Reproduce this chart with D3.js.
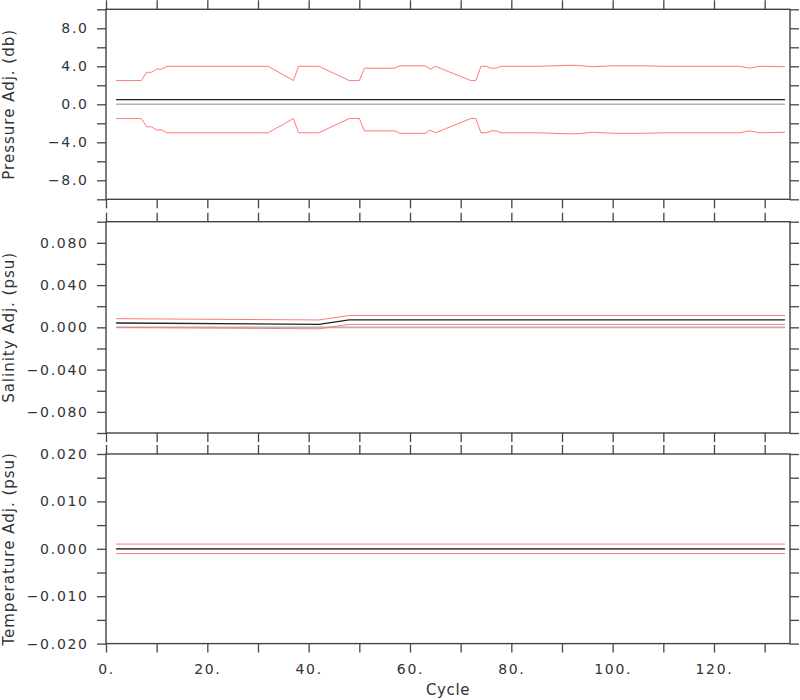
<!DOCTYPE html>
<html><head><meta charset="utf-8">
<script src="https://cdn.jsdelivr.net/npm/d3@7"></script>
<style>
html,body{margin:0;padding:0;background:#fff;}
svg text{font-family:"DejaVu Sans",sans-serif;fill:#333;}
</style></head>
<body>
<svg id="chart" width="800" height="700"></svg>
<script>
// ---- data ----
const pCycles = [2,7,8,9,10,11,12,32,37,38,42,48,50,51,57,58,63,64,65,72,73,74,75,76,77,78,85,91,93,96,100,106,110,120,125,127,129,134];
const pAdj    = [0.5,0.5,0.5,0.5,0.5,0.5,0.5,0.5,0.5,0.5,0.5,0.5,0.5,0.5,0.5,0.5,0.5,0.5,0.5,0.5,0.5,0.5,0.5,0.5,0.5,0.5,0.5,0.5,0.5,0.5,0.5,0.5,0.5,0.5,0.5,0.5,0.5,0.5];
const pErr    = [2.0,2.0,2.87,2.87,3.2,3.2,3.5,3.5,2.0,3.5,3.5,2.0,2.0,3.3,3.3,3.55,3.55,3.2,3.5,2.0,2.0,3.5,3.5,3.3,3.3,3.5,3.5,3.6,3.6,3.45,3.55,3.55,3.5,3.5,3.5,3.3,3.5,3.45];

const sCycles = [2,42,48,134];
const sAdj    = [0.0041,0.0028,0.0070,0.0070];
const sErr    = [0.0041,0.0042,0.0042,0.0042];

const tCycles = [2,134];
const tAdj    = [0.0,0.0];
const tErr    = [0.001,0.001];

const xTicks = [0,10,20,30,40,50,60,70,80,90,100,110,120,130];
const xLabels = [0,20,40,60,80,100,120];

const panels = [
  {title:"Pressure Adj. (db)", cycles:pCycles, adj:pAdj, err:pErr,
   domain:[-10,10], range:[199.3,9.3], minor:[-10,-8,-6,-4,-2,0,2,4,6,8,10], major:[-8,-4,0,4,8], fmt:".1f"},
  {title:"Salinity Adj. (psu)", cycles:sCycles, adj:sAdj, err:sErr,
   domain:[-0.1,0.1], range:[433,221.7], minor:[-0.1,-0.08,-0.06,-0.04,-0.02,0,0.02,0.04,0.06,0.08,0.1], major:[-0.08,-0.04,0,0.04,0.08], fmt:".3f"},
  {title:"Temperature Adj. (psu)", cycles:tCycles, adj:tAdj, err:tErr,
   domain:[-0.02,0.02], range:[643.6,454], minor:[-0.02,-0.015,-0.01,-0.005,0,0.005,0.01,0.015,0.02], major:[-0.02,-0.01,0,0.01,0.02], fmt:".3f"}
];

// ---- drawing ----
const svg = d3.select("#chart");
const x = d3.scaleLinear().domain([0,135]).range([106,790]);
const TL = 9;
const axisColor = "#444";

panels.forEach((p,i) => {
  const y = d3.scaleLinear().domain(p.domain).range(p.range);
  const g = svg.append("g");
  const f = d3.format(p.fmt);
  const isMajor = v => p.major.some(m => Math.abs(m - v) < 1e-9);

  // data lines
  const pts = p.cycles.map((c,k) => ({c, a:p.adj[k], e:p.err[k]}));
  const zero = [{c:p.cycles[0]},{c:p.cycles[p.cycles.length-1]}];
  g.append("path").datum(zero)
    .attr("d", d3.line().x(d=>x(d.c)).y(()=>y(0)))
    .attr("fill","none").attr("stroke","#b4b4b4").attr("stroke-width",1.6);
  g.append("path").datum(pts)
    .attr("d", d3.line().x(d=>x(d.c)).y(d=>y(d.a + d.e)))
    .attr("fill","none").attr("stroke","#ff7a7a").attr("stroke-width",1);
  g.append("path").datum(pts)
    .attr("d", d3.line().x(d=>x(d.c)).y(d=>y(d.a - d.e)))
    .attr("fill","none").attr("stroke","#ff7a7a").attr("stroke-width",1);
  g.append("path").datum(pts)
    .attr("d", d3.line().x(d=>x(d.c)).y(d=>y(d.a)))
    .attr("fill","none").attr("stroke","#222").attr("stroke-width",1.3);

  // axes
  const left = d3.axisLeft(y).tickValues(p.minor).tickSize(TL).tickPadding(10)
    .tickFormat(v => isMajor(v) ? f(v) : "");
  const right = d3.axisRight(y).tickValues(p.minor).tickSize(TL).tickFormat("");
  const top = d3.axisTop(x).tickValues(xTicks).tickSize(TL).tickFormat("");
  const bottom = d3.axisBottom(x).tickValues(xTicks).tickSize(TL).tickPadding(11)
    .tickFormat(v => (i === 2 && xLabels.includes(v)) ? v + "." : "");

  const gl = g.append("g").attr("transform",`translate(${x(0)},0)`).call(left);
  const gr = g.append("g").attr("transform",`translate(${x(135)},0)`).call(right);
  const gt = g.append("g").attr("transform",`translate(0,${p.range[1]})`).call(top);
  const gb = g.append("g").attr("transform",`translate(0,${p.range[0]})`).call(bottom);
  [gl,gr,gt,gb].forEach(a => {
    a.select(".domain").remove();
    a.selectAll("line").attr("stroke",axisColor).attr("stroke-width",1.3);
    a.selectAll("text")
      .style("font-size","14px").style("letter-spacing","1.7px")
      .style("fill","#333").style("font-family","DejaVu Sans");
  });
  gl.selectAll("text").attr("dx","1.7px");

  // frame
  g.append("rect").attr("x",x(0)).attr("y",p.range[1])
    .attr("width",x(135)-x(0)).attr("height",p.range[0]-p.range[1])
    .attr("fill","none").attr("stroke",axisColor).attr("stroke-width",1.4);

  // y title
  const cy = (p.range[0]+p.range[1])/2;
  svg.append("text").attr("transform",`translate(14,${cy}) rotate(-90)`)
    .attr("text-anchor","middle")
    .style("font-size","15px").style("letter-spacing","1px")
    .text(p.title);
});

svg.append("text").attr("x",448).attr("y",695).attr("text-anchor","middle")
  .style("font-size","15px").style("letter-spacing","0.6px").text("Cycle");
</script>
</body></html>
